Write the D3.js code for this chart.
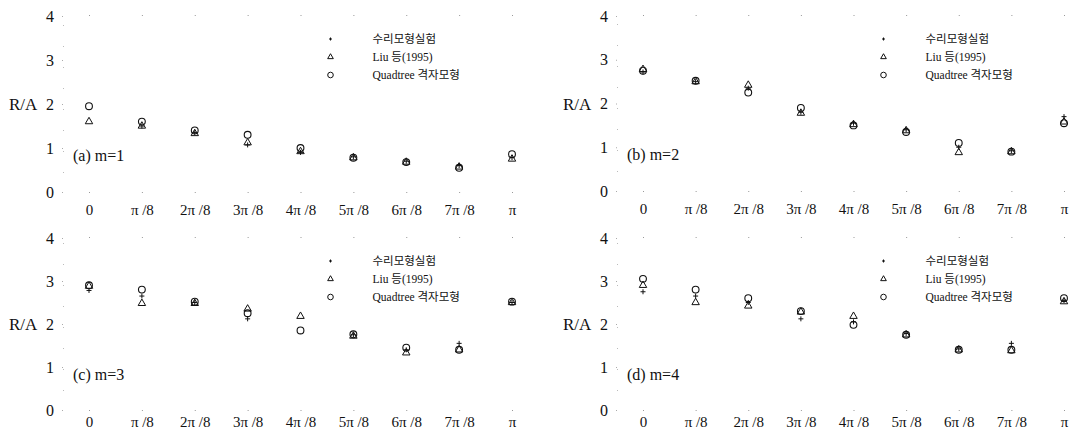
<!DOCTYPE html>
<html>
<head>
<meta charset="utf-8">
<script src="https://cdn.jsdelivr.net/npm/d3@7"></script>
<style>
    body { margin: 0; background: #fff; }
    svg { display: block; }
    text { font-family: "Liberation Serif", "Noto Sans CJK KR", serif; fill: #111; }
</style>
</head>
<body>
<svg id="svg"></svg>
<script>
// x categories (wave direction angle)
const categories = ["0", "π/8", "2π/8", "3π/8", "4π/8", "5π/8", "6π/8", "7π/8", "π"];
const tickLabels = ["0", "π /8", "2π /8", "3π /8", "4π /8", "5π /8", "6π /8", "7π /8", "π"];
const yTicks = [0, 1, 2, 3, 4];

const panelNames = ["(a) m=1", "(b) m=2", "(c) m=3", "(d) m=4"];
const legendNames = ["수리모형실험", "Liu 등(1995)", "Quadtree 격자모형"];

// 수리모형실험 (experiment), null where not visible
const expM1 = [null, 1.5, 1.35, 1.07, 0.9, 0.8, 0.7, 0.6, 0.78];
const expM2 = [2.72, 2.5, 2.35, 1.8, 1.55, 1.4, 1.0, 0.92, 1.7];
const expM3 = [2.78, 2.65, 2.5, 2.12, null, 1.75, 1.4, 1.55, 2.5];
const expM4 = [2.75, 2.65, 2.5, 2.12, 2.05, 1.78, 1.42, 1.55, 2.55];

// Liu 등(1995)
const liuM1 = [1.6, 1.5, 1.33, 1.12, 0.92, 0.78, 0.68, 0.57, 0.75];
const liuM2 = [2.78, 2.5, 2.42, 1.78, 1.52, 1.38, 0.88, 0.9, 1.58];
const liuM3 = [2.88, 2.48, 2.48, 2.35, 2.18, 1.72, 1.33, 1.4, 2.5];
const liuM4 = [2.9, 2.5, 2.42, 2.28, 2.18, 1.75, 1.4, 1.38, 2.52];

// Quadtree 격자모형
const quadM1 = [1.95, 1.6, 1.4, 1.3, 1.0, 0.78, 0.68, 0.55, 0.86];
const quadM2 = [2.75, 2.52, 2.25, 1.9, 1.5, 1.35, 1.1, 0.9, 1.55];
const quadM3 = [2.9, 2.8, 2.52, 2.25, 1.85, 1.76, 1.45, 1.4, 2.52];
const quadM4 = [3.05, 2.8, 2.6, 2.3, 1.98, 1.75, 1.4, 1.4, 2.6];

const svg = d3.select("#svg").attr("width", 1086).attr("height", 434);

// panel frames: x range, y range, padding of x labels
const panels = [
    {x0: 89, x1: 512, y0: 192, y1: 16, pad: 11, exp: expM1, liu: liuM1, quad: quadM1},
    {x0: 643, x1: 1064, y0: 191, y1: 16, pad: 11, exp: expM2, liu: liuM2, quad: quadM2},
    {x0: 89, x1: 512, y0: 410, y1: 238, pad: 5, exp: expM3, liu: liuM3, quad: quadM3},
    {x0: 643, x1: 1064, y0: 410, y1: 238, pad: 5, exp: expM4, liu: liuM4, quad: quadM4}
];

const triangle = d3.symbol().type(d3.symbolTriangle).size(24);
const plus = "M-2.5,0H2.5M0,-2.5V2.5";

panels.forEach(function (p, k) {
    const x = d3.scalePoint().domain(categories).range([p.x0, p.x1]);
    const y = d3.scaleLinear().domain([0, 4]).range([p.y0, p.y1]);
    const g = svg.append("g");

    // faint tick marks at top and bottom (axis frame barely visible)
    const xAxisB = d3.axisBottom(x).tickSize(1).tickPadding(p.pad)
        .tickFormat(function (d, i) { return tickLabels[i]; });
    const gb = g.append("g").attr("transform", "translate(0," + p.y0 + ")").call(xAxisB);
    gb.select(".domain").remove();
    gb.selectAll("line").attr("stroke", "#999");
    gb.selectAll("text").attr("font-size", 15).style("font-family", "Liberation Serif");

    const gt = g.append("g").attr("transform", "translate(0," + p.y1 + ")")
        .call(d3.axisTop(x).tickSize(1).tickFormat(""));
    gt.select(".domain").remove();
    gt.selectAll("line").attr("stroke", "#999");

    const yAxis = d3.axisLeft(y).tickValues(yTicks).tickSize(1).tickPadding(8)
        .tickFormat(d3.format("d"));
    const gl = g.append("g").attr("transform", "translate(" + (p.x0 - 26) + ",0)").call(yAxis);
    gl.select(".domain").attr("stroke", "#bbb").attr("stroke-dasharray", "1,20");
    gl.selectAll("line").attr("stroke", "#aaa");
    gl.selectAll("text").attr("font-size", 16).style("font-family", "Liberation Serif");

    // y title
    g.append("text")
        .attr("x", p.x0 - 80).attr("y", (p.y0 + p.y1) / 2 + 6)
        .attr("font-size", 17)
        .text("R/A");

    // panel label
    g.append("text")
        .attr("x", p.x0 - 16).attr("y", y(0.7))
        .attr("font-size", 16)
        .text(panelNames[k]);

    // Liu triangles
    g.selectAll("path.liu")
        .data(p.liu.map(function (v, i) { return {c: categories[i], v: v}; })
            .filter(function (d) { return d.v !== null; }))
        .enter().append("path")
        .attr("class", "liu")
        .attr("d", triangle)
        .attr("transform", function (d) { return "translate(" + x(d.c) + "," + y(d.v) + ")"; })
        .attr("fill", "none").attr("stroke", "#111").attr("stroke-width", 1);

    // Quadtree circles
    g.selectAll("circle.quad")
        .data(p.quad.map(function (v, i) { return {c: categories[i], v: v}; })
            .filter(function (d) { return d.v !== null; }))
        .enter().append("circle")
        .attr("class", "quad")
        .attr("cx", function (d) { return x(d.c); })
        .attr("cy", function (d) { return y(d.v); })
        .attr("r", 3.4)
        .attr("fill", "none").attr("stroke", "#111").attr("stroke-width", 1.1);

    // experiment pluses
    g.selectAll("path.exp")
        .data(p.exp.map(function (v, i) { return {c: categories[i], v: v}; })
            .filter(function (d) { return d.v !== null; }))
        .enter().append("path")
        .attr("class", "exp")
        .attr("d", plus)
        .attr("transform", function (d) { return "translate(" + x(d.c) + "," + y(d.v) + ")"; })
        .attr("fill", "none").attr("stroke", "#111").attr("stroke-width", 1);

    // legend
    const lx = x("4π/8") + 30;
    const ly = p.y1 + 23;
    const lg = g.append("g").attr("transform", "translate(" + lx + "," + ly + ")");
    lg.append("path").attr("d", "M-1.5,0H1.5M0,-1.5V1.5").attr("stroke", "#111");
    lg.append("path").attr("d", d3.symbol().type(d3.symbolTriangle).size(14))
        .attr("transform", "translate(0,18)").attr("fill", "none").attr("stroke", "#111");
    lg.append("circle").attr("cx", 0).attr("cy", 36).attr("r", 2.8)
        .attr("fill", "none").attr("stroke", "#111");
    lg.selectAll("text").data(legendNames).enter().append("text")
        .attr("x", 42).attr("y", function (d, i) { return i * 18 + 4; })
        .attr("font-size", 11.5)
        .text(function (d) { return d; });
});
</script>
</body>
</html>
